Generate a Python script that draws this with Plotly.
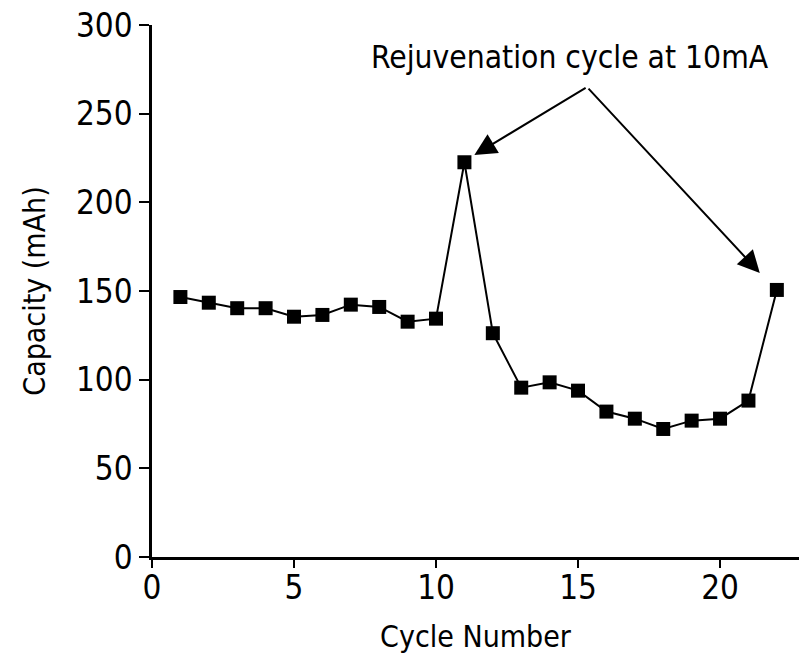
import plotly.graph_objects as go

cycles = list(range(1, 23))
capacity = [146.6, 143.4, 140.3, 140.3, 135.5, 136.5, 142.3, 141.0, 132.7, 134.4,
            222.6, 126.2, 95.5, 98.5, 93.8, 82.0, 78.0, 72.2, 76.9, 78.0, 88.2, 150.6]
x_ticks = [0, 5, 10, 15, 20]
y_ticks = [0, 50, 100, 150, 200, 250, 300]
note_text = "Rejuvenation cycle at 10mA"
note_pos = (14.7, 282.0)
arrow_tail = (15.32, 265.0)
arrow_heads = [(11.35, 226.7), (21.4, 160.2)]

FONT = "DejaVu Sans Condensed, Liberation Sans Narrow, sans-serif"

fig = go.Figure()
fig.add_trace(go.Scatter(
    x=cycles, y=capacity, mode="lines+markers",
    line=dict(color="black", width=2),
    marker=dict(symbol="square", size=14, color="black"),
    cliponaxis=False, showlegend=False,
))

for hx, hy in arrow_heads:
    fig.add_annotation(
        x=hx, y=hy, ax=arrow_tail[0], ay=arrow_tail[1],
        xref="x", yref="y", axref="x", ayref="y",
        text="", showarrow=True, arrowhead=2, arrowsize=2.2,
        arrowwidth=2, arrowcolor="black",
    )

fig.add_annotation(
    x=note_pos[0], y=note_pos[1], xref="x", yref="y",
    text=note_text, showarrow=False, yanchor="middle", xanchor="center",
    font=dict(family=FONT, size=31.5, color="black"),
)

fig.update_layout(
    width=799, height=669,
    margin=dict(l=152, r=0, t=25, b=112, autoexpand=False),
    plot_bgcolor="white", paper_bgcolor="white",
    font=dict(family=FONT, size=33, color="black"),
    xaxis=dict(
        range=[0, 22.78], tickvals=x_ticks, ticks="outside", ticklen=8,
        tickwidth=2, tickcolor="black", showline=True, linewidth=2.5,
        linecolor="black", showgrid=False, zeroline=False, automargin=False,
        ticklabelstandoff=-8, ticklabeloverflow="allow",
        title=dict(text="Cycle Number", standoff=20, font=dict(size=30)),
    ),
    yaxis=dict(
        range=[0, 300], tickvals=y_ticks, ticks="outside", ticklen=10,
        tickwidth=2, tickcolor="black", showline=True, linewidth=2.5,
        linecolor="black", showgrid=False, zeroline=False, automargin=False,
        ticklabeloverflow="allow",
        title=dict(text="Capacity (mAh)", standoff=22, font=dict(size=30)),
    ),
)

fig.write_html("out.html", config={"displayModeBar": False},
               post_script="document.body.style.margin='0';")
